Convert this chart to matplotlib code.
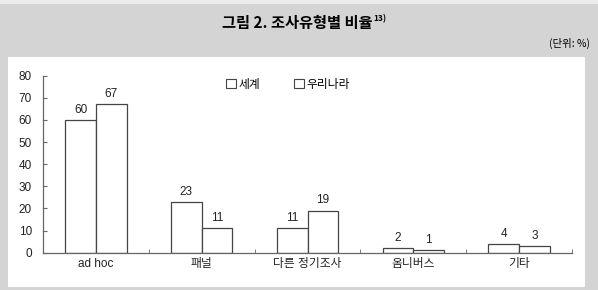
import matplotlib
matplotlib.use("Agg")
import matplotlib.pyplot as plt
from matplotlib.patches import Rectangle, Patch
import numpy as np

categories = ["ad hoc", "패널", "다른 정기조사", "옴니버스", "기타"]
world = [60, 23, 11, 2, 4]
korea = [67, 11, 19, 1, 3]
series_names = ["세계", "우리나라"]
yticks = [0, 10, 20, 30, 40, 50, 60, 70, 80]

plt.rcParams['font.family'] = ['Liberation Sans', 'Noto Sans CJK KR']

W, H = 598, 290
fig = plt.figure(figsize=(W / 100, H / 100), dpi=100)
fig.patch.set_facecolor('#d4d4d4')

# top light strip and white panel
fig.patches.append(Rectangle((0, 1 - 4 / H), 1, 4 / H, transform=fig.transFigure,
                             facecolor='#ececec', edgecolor='none', zorder=-10))
fig.patches.append(Rectangle((8 / W, 3 / H), (585 - 8) / W, (287 - 57) / H,
                             transform=fig.transFigure, facecolor='white',
                             edgecolor='none', zorder=-10))

title = fig.text(0.497, 1 - 23 / H, "그림 2. 조사유형별 비율", ha='center', va='center',
                 fontsize=11, fontweight='bold', family=['Noto Sans CJK KR'])
fig.text(590 / W, 1 - 43 / H, "(단위: %)", ha='right', va='center', fontsize=7.5,
         family=['Noto Sans CJK KR'])

ax = fig.add_axes([43 / W, (H - 252.7) / H, (572 - 43) / W, (252.7 - 75.7) / H])
ax.set_facecolor('none')

x = np.arange(len(categories)) + 0.5
bw = 0.29
edge = '#444444'
b1 = ax.bar(x - bw / 2, world, bw, facecolor='white', edgecolor=edge, linewidth=0.9)
b2 = ax.bar(x + bw / 2, korea, bw, facecolor='white', edgecolor=edge, linewidth=0.9)
for bars, vals in ((b1, world), (b2, korea)):
    for r, v in zip(bars, vals):
        ax.annotate(str(v), (r.get_x() + r.get_width() / 2, v), xytext=(0, 3),
                    textcoords='offset points', ha='center', va='bottom',
                    fontsize=8.5, color='#222222')

ax.set_xlim(0, len(categories))
ax.set_ylim(0, 80)
ax.set_yticks(yticks)
ax.set_xticks(x)
ax.set_xticklabels(categories, fontsize=8.5, color='#222222')
ax.set_xticks(np.arange(1, len(categories) + 1), minor=True)
ax.tick_params(axis='x', which='major', length=0, pad=4)
ax.tick_params(axis='x', which='minor', direction='in', length=3, color='#666666')
ax.tick_params(axis='y', direction='in', length=3, color='#666666',
               labelsize=8.5, labelcolor='#222222', pad=8)
for s in ['top', 'right']:
    ax.spines[s].set_visible(False)
for s in ['left', 'bottom']:
    ax.spines[s].set_color('#666666')
    ax.spines[s].set_linewidth(0.9)

handles = [Patch(facecolor='white', edgecolor=edge, linewidth=0.8) for _ in series_names]
ax.legend(handles, series_names, loc='upper left',
          bbox_to_anchor=((221 - 43) / (572 - 43), 1.01), ncol=2,
          frameon=False, fontsize=8.5, handlelength=0.9, handleheight=0.9,
          handletextpad=0.2, columnspacing=2.8, borderaxespad=0)

renderer = fig.canvas.get_renderer()
bb = title.get_window_extent(renderer)
fig.text(bb.x1 / W + 1 / W, 1 - 19 / H, "13)", ha='left', va='center', fontsize=6,
         fontweight='bold', family=['Noto Sans CJK KR'])

fig.savefig("out.png", dpi=100, facecolor=fig.get_facecolor())
